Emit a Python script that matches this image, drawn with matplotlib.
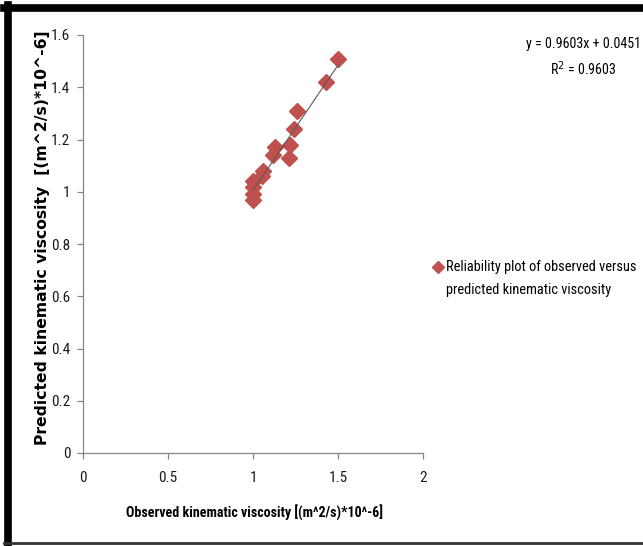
import numpy as np
import matplotlib.pyplot as plt
from matplotlib.lines import Line2D
from matplotlib import font_manager

# observed vs predicted kinematic viscosity, (m^2/s)*10^-6
observed = [1.50, 1.43, 1.26, 1.24, 1.22, 1.21, 1.13, 1.12, 1.06, 1.05,
            1.00, 1.00, 1.00, 1.00]
predicted = [1.51, 1.42, 1.31, 1.24, 1.18, 1.13, 1.17, 1.14, 1.08, 1.06,
             1.04, 1.02, 0.99, 0.97]
slope, intercept, r2 = 0.9603, 0.0451, 0.9603

x_ticks = [0, 0.5, 1, 1.5, 2]
y_ticks = [0, 0.2, 0.4, 0.6, 0.8, 1, 1.2, 1.4, 1.6]


def pick_font(names):
    for n in names:
        try:
            font_manager.findfont(n, fallback_to_default=False)
            return n
        except Exception:
            pass
    return 'DejaVu Sans'


narrow = pick_font(['Liberation Sans Narrow', 'DejaVu Sans Condensed',
                    'Roboto Condensed', 'Open Sans Condensed', 'Lato'])
red = '#C0504D'
grey = '#868686'

W, H = 643, 546
fig = plt.figure(figsize=(W / 100, H / 100), dpi=100)
renderer = fig.canvas.get_renderer()


def fit(t, width_px):
    # scale the font so the text is as wide as in the original
    w = t.get_window_extent(renderer).width
    t.set_fontsize(t.get_fontsize() * width_px / w)
    return t


ax = fig.add_axes([82.7 / W, 1 - 453 / H, 340.6 / W, 418 / H])

ax.plot(observed, predicted, linestyle='none', marker='D', markersize=8.5,
        color=red, markeredgecolor=red, zorder=3)

# linear trend line over the data range
xs = np.array([min(observed), max(observed)])
ax.plot(xs, slope * xs + intercept, color='#595959', lw=0.8, zorder=4)

ax.set_xlim(0, 2)
ax.set_ylim(0, 1.6)
ax.set_xticks(x_ticks)
ax.set_xticklabels(['0', '0.5', '1', '1.5', '2'])
ax.set_yticks(y_ticks)
ax.set_yticklabels(['0', '0.2', '0.4', '0.6', '0.8', '1', '1.2', '1.4', '1.6'])
for s in ['top', 'right']:
    ax.spines[s].set_visible(False)
for s in ['left', 'bottom']:
    ax.spines[s].set_color(grey)
    ax.spines[s].set_linewidth(0.9)
ax.tick_params(direction='out', length=4, width=0.9, color=grey, pad=5,
               labelcolor='#1a1a1a')
for lab in ax.get_xticklabels() + ax.get_yticklabels():
    lab.set_family(narrow)
    lab.set_fontsize(11)
ax.tick_params(axis='x', pad=9)

xl = fig.text(254 / W, 1 - 513 / H, 'Observed kinematic viscosity [(m^2/s)*10^-6]',
              family=narrow, fontweight='bold', fontsize=10,
              ha='center', va='center')
fit(xl, 258)
yl = fig.text(43 / W, 1 - 238 / H, 'Predicted kinematic viscosity  [(m^2/s)*10^-6]',
              rotation=90, ha='center', va='center', fontweight='bold',
              fontsize=10)
yl.set_fontsize(10 * 414 / yl.get_window_extent(renderer).height)

# trendline equation
eq = fig.text(583 / W, 1 - 44 / H, 'y = 0.9603x + 0.0451', family=narrow,
              fontsize=10, ha='center', va='center')
fit(eq, 114)
rr = fig.text(583 / W, 1 - 69 / H, 'R$^2$ = 0.9603', family=narrow,
              fontsize=eq.get_fontsize(), ha='center', va='center')

# legend
fig.add_artist(Line2D([438 / W], [1 - 267 / H], marker='D', markersize=6.5,
                      color=red, linestyle='none'))
l1 = fig.text(446 / W, 1 - 267 / H, 'Reliability plot of observed versus',
              family=narrow, fontsize=10, ha='left', va='center')
fit(l1, 190)
fig.text(446 / W, 1 - 290 / H, 'predicted kinematic viscosity',
         family=narrow, fontsize=l1.get_fontsize(), ha='left', va='center')

# outer frame
fig.add_artist(Line2D([4 / W, 1], [1 - 8 / H, 1 - 8 / H], color='black', lw=5.5))
fig.add_artist(Line2D([7.5 / W, 7.5 / W], [1 - 5 / H, 0], color='black', lw=5.5))
fig.add_artist(Line2D([4 / W, 1], [1 - 543 / H, 1 - 543 / H], color='#333333', lw=2))

fig.savefig('out.png', dpi=100)
